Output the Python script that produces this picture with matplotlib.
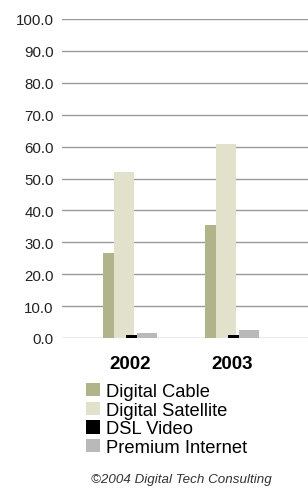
import numpy as np
import matplotlib; matplotlib.use("Agg")
import matplotlib.pyplot as plt

plt.rcParams['font.family'] = ['Liberation Sans', 'DejaVu Sans']

years = ["2002", "2003"]
series = ["Digital Cable", "Digital Satellite", "DSL Video", "Premium Internet"]
cable = [26.8, 35.5]
satellite = [52.1, 60.8]
dsl = [1.0, 1.0]
premium = [1.6, 2.5]
colors = ["#b1b38a", "#e2e1cc", "#000000", "#b9b9b9"]
yticks = np.arange(0, 101, 10)

W, H = 308, 489
fig = plt.figure(figsize=(W / 100, H / 100), dpi=100)
ax = fig.add_axes([62 / W, (H - 339) / H, 246 / W, 319 / H])

x = np.arange(len(years))
step, width = 0.111, 0.196
handles = []
for i, (vals, c) in enumerate(zip([cable, satellite, dsl, premium], colors)):
    b = ax.bar(x + (i - 1.5) * step, vals, width, color=c, zorder=2 + i, label=series[i])
    handles.append(b)

ax.set_xlim(-0.667, 1.745)
ax.set_ylim(0, 100)
ax.set_yticks(yticks)
ax.set_yticklabels([f"{v:.1f}" for v in yticks], fontsize=10.8, color="#222222")
ax.tick_params(axis="y", length=0, pad=6)
ax.set_xticks(x)
ax.set_xticklabels(years, fontsize=13.5, fontweight="bold")
ax.tick_params(axis="x", length=0, pad=12)
ax.grid(axis="y", color="#999999", linewidth=1.0, zorder=1)
for s in ax.spines.values():
    s.set_visible(False)

fig.legend(handles=handles, labels=series, loc="upper left",
           bbox_to_anchor=(86 / W, (H - 384) / H), frameon=False,
           fontsize=13.2, handlelength=0.75, handleheight=0.75,
           handletextpad=0.35, labelspacing=0.08, borderpad=0, borderaxespad=0)

fig.text(181 / W, 9 / H, "\u00a92004 Digital Tech Consulting", fontsize=9.6,
         style="italic", ha="center", va="center", color="#333333")

fig.savefig("out.png", dpi=100)
